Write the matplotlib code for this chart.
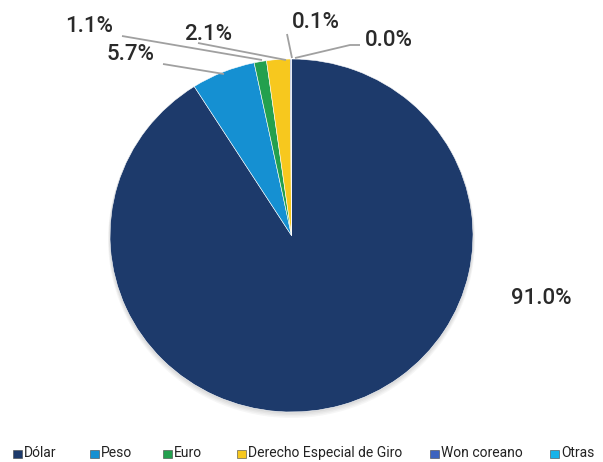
import matplotlib
matplotlib.use("Agg")
import matplotlib.pyplot as plt
from matplotlib.patches import Rectangle, Ellipse

# currency shares
monedas = ["Dólar", "Peso", "Euro", "Derecho Especial de Giro", "Won coreano", "Otras"]
porcentajes = [91.0, 5.7, 1.1, 2.1, 0.1, 0.0]
colores = ["#1d3a6b", "#1590d2", "#23a04e", "#f7c81e", "#3d63bf", "#16b3ea"]

W, H = 603, 462
k = 181.5 / 176.5  # pie is slightly squashed vertically

fig = plt.figure(figsize=(W / 100, H / 100), dpi=100)
ax = fig.add_axes([0, 0, 1, 1])

def px(x, y):
    return x, (H - y) * k

cx, cy = px(291.5, 235.5)

# soft shadow under the pie
for i, a in enumerate([0.05, 0.05, 0.06, 0.07]):
    d = 4 - i
    ax.add_patch(Ellipse((cx, cy - d * k), 2 * (181.5 + d * 0.5), 2 * (181.5 + d * 0.5),
                         facecolor="#555555", alpha=a, lw=0))

ax.pie(porcentajes, colors=colores, startangle=90, counterclock=False,
       center=(cx, cy), radius=181.5, frame=True,
       wedgeprops=dict(edgecolor="white", linewidth=0.4))
ax.set_xlim(0, W)
ax.set_ylim(0, H * k)
ax.set_aspect("auto")
ax.axis("off")

fuente = ["Roboto", "DejaVu Sans"]

# label position and leader line points, in pixels from top-left
etiquetas = {
    0: ((541, 298), None),
    1: ((131, 54), [(163, 64), (224, 74)]),
    2: ((89, 27), [(122, 36), (262, 60)]),
    3: ((208, 34), [(198, 43), (286, 60)]),
    4: ((316, 23), [(287, 34), (292, 58)]),
    5: ((389, 40), [(360, 45), (350, 45), (295, 58)]),
}
for i, (pos, linea) in etiquetas.items():
    ax.text(*px(*pos), f"{porcentajes[i]:.1f}%", ha="center", va="center",
            fontsize=16, fontweight="medium", family=fuente, color="#2a2a2a")
    if linea:
        xs, ys = zip(*[px(*p) for p in linea])
        ax.plot(xs, ys, color="#a0a0a0", lw=1.3, solid_capstyle="butt")

# legend row
leg_x = [13, 90, 163, 237, 430, 550]
for x, nombre, c in zip(leg_x, monedas, colores):
    x0, y0 = px(x, 457.5)
    ax.add_patch(Rectangle((x0, y0), 8.5, 8 * k, facecolor=c, edgecolor="#444444", lw=0.4))
    ax.text(*px(x + 11, 453), nombre, ha="left", va="center", fontsize=10,
            family=fuente, color="#222222")

fig.savefig("out.png", dpi=100)
